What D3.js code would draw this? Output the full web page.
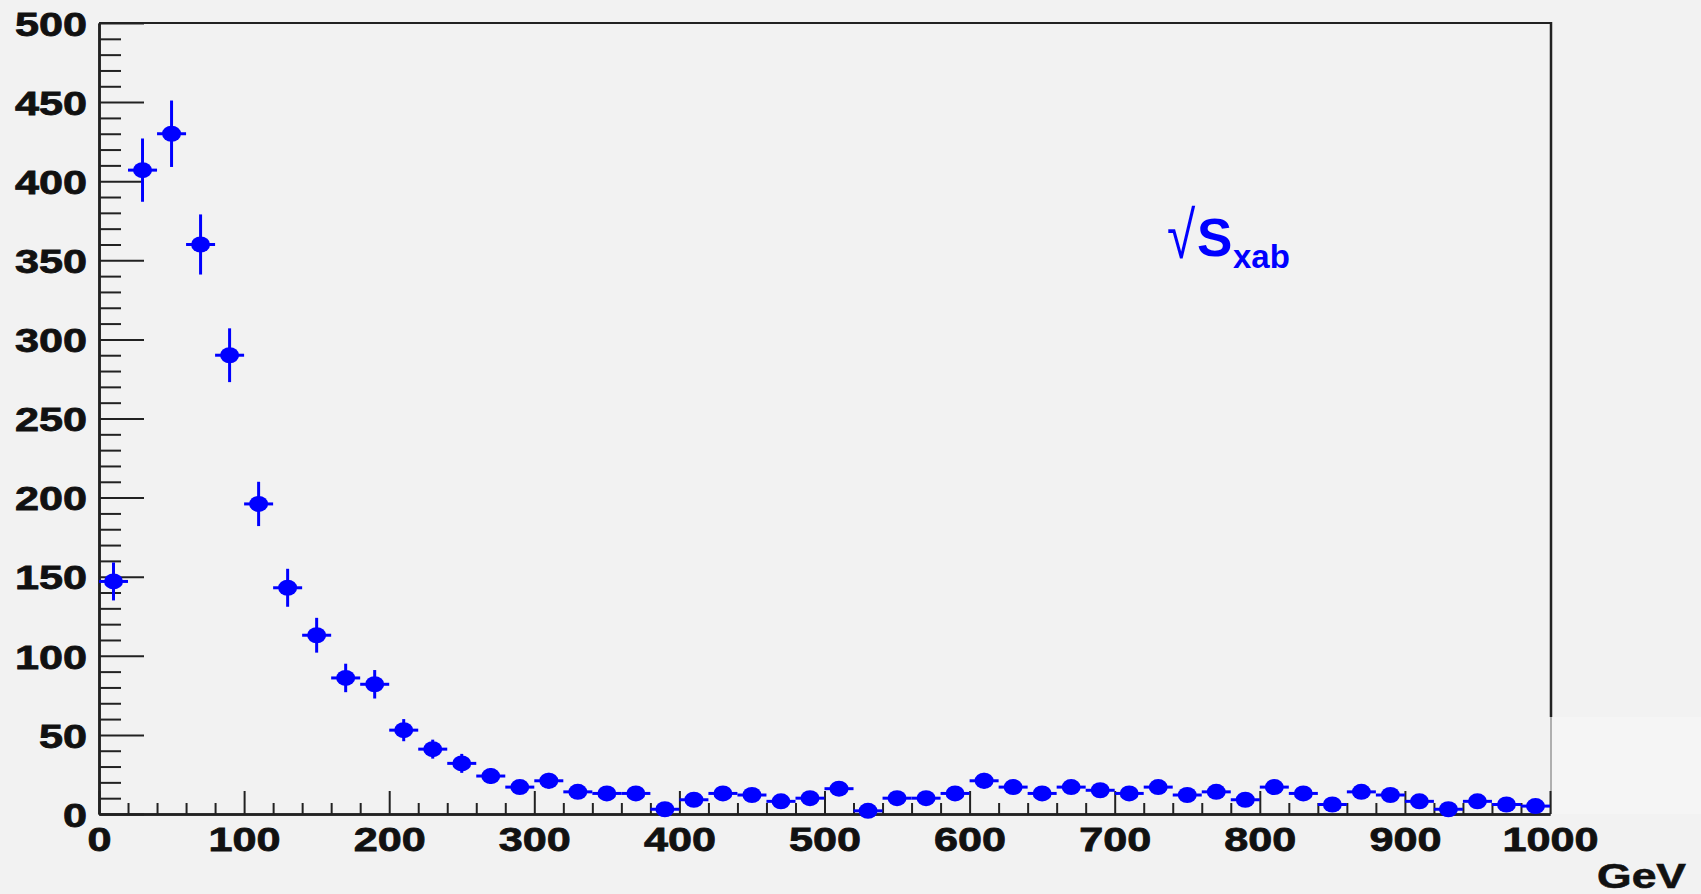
<!DOCTYPE html>
<html>
<head>
<meta charset="utf-8">
<script src="https://cdn.jsdelivr.net/npm/d3@7"></script>
<style>
  html, body { margin: 0; padding: 0; background: #f2f2f2; }
  svg { display: block; }
</style>
</head>
<body>
<div id="chart"></div>
<script>
// bin centres (GeV), 20 GeV wide bins
var binCenters = [10,30,50,70,90,110,130,150,170,190,210,230,250,270,290,310,330,350,370,390,
                  410,430,450,470,490,510,530,550,570,590,610,630,650,670,690,710,730,750,770,790,
                  810,830,850,870,890,910,930,950,970,990];
var counts = [147,407,430,360,290,196,143,113,86,82,53,41,32,24,17,21,14,13,13,3,
              9,13,12,8,10,16,2,10,10,13,21,17,13,17,15,13,17,12,14,9,
              17,13,6,14,12,8,3,8,6,5];
var errors = [12,20,21,19,17,14,12,11,9,9,7,6,6,5,4,5,4,4,4,2,
              3,4,3,3,3,4,1,3,3,4,5,4,4,4,4,4,4,3,4,3,
              4,4,2,4,3,3,2,3,2,2];
var binWidth = 20;
var xMajorTicks = [0,100,200,300,400,500,600,700,800,900,1000];
var yMajorTicks = [0,50,100,150,200,250,300,350,400,450,500];
var xMinorTicks = d3.range(0, 1001, 20).filter(function(v) { return v % 100 != 0; });
var yMinorTicks = d3.range(0, 501, 10).filter(function(v) { return v % 50 != 0; });
var xTitle = "GeV";

var width = 1701, height = 894;
var plotLeft = 99, plotRight = 1551, plotTop = 23, plotBottom = 814;
var blue = "#0000ff";
var stretch = 1.27; // the original picture is stretched sideways

var svg = d3.select("#chart").append("svg").attr("width", width).attr("height", height);
svg.append("rect").attr("width", width).attr("height", height).attr("fill", "#f2f2f2");

var xScale = d3.scaleLinear().domain([0, 1000]).range([plotLeft, plotRight - 1]);
var yScale = d3.scaleLinear().domain([0, 500]).range([plotBottom, plotTop]);

// lighter patch right of the frame
svg.append("rect").attr("x", plotRight + 1).attr("y", 717).attr("width", width - plotRight).attr("height", plotBottom - 717)
    .attr("fill", "#f5f5f5");

// frame top + right
svg.append("line").attr("x1", plotLeft).attr("x2", plotRight).attr("y1", plotTop).attr("y2", plotTop)
    .attr("stroke", "#222").attr("stroke-width", 2);
svg.append("line").attr("x1", plotRight).attr("x2", plotRight).attr("y1", plotTop - 1).attr("y2", 717)
    .attr("stroke", "#222").attr("stroke-width", 2.5);
svg.append("line").attr("x1", plotRight).attr("x2", plotRight).attr("y1", 717).attr("y2", plotBottom)
    .attr("stroke", "#999").attr("stroke-width", 1.5);

// y axis
var yMinor = svg.append("g").attr("transform", "translate(" + plotLeft + ",0)")
    .call(d3.axisLeft(yScale).tickValues(yMinorTicks).tickSize(-22).tickSizeOuter(0).tickFormat(""));
var yAxis = svg.append("g").attr("transform", "translate(" + plotLeft + ",0)")
    .call(d3.axisLeft(yScale).tickValues(yMajorTicks).tickSize(-45).tickSizeOuter(0).tickPadding(9.5)
        .tickFormat(d3.format("d")));

// x axis
var xMinor = svg.append("g").attr("transform", "translate(0," + plotBottom + ")")
    .call(d3.axisBottom(xScale).tickValues(xMinorTicks).tickSize(-11).tickSizeOuter(0).tickFormat(""));
var xAxis = svg.append("g").attr("transform", "translate(0," + plotBottom + ")")
    .call(d3.axisBottom(xScale).tickValues(xMajorTicks).tickSize(-23).tickSizeOuter(0).tickPadding(13)
        .tickFormat(d3.format("d")));

[yMinor, yAxis, xMinor, xAxis].forEach(function(g) {
    g.selectAll("path").attr("stroke", "#222").attr("stroke-width", 2.5);
    g.selectAll("line").attr("stroke", "#222").attr("stroke-width", 2);
});
[yAxis, xAxis].forEach(function(g) {
    g.selectAll("text")
        .attr("fill", "#111")
        .attr("stroke", "#111").attr("stroke-width", 0.8)
        .style("font-family", "'Liberation Sans', Arial, sans-serif")
        .style("font-weight", "bold")
        .style("font-size", "34px")
        .attr("transform", "scale(" + stretch + ",1)");
});
yAxis.selectAll("text").attr("dy", "0.36em");

// axis title
svg.append("text")
    .attr("transform", "translate(1686,888) scale(" + stretch + ",1)")
    .attr("text-anchor", "end")
    .style("font-family", "'Liberation Sans', Arial, sans-serif")
    .style("font-weight", "bold")
    .style("font-size", "35px")
    .attr("fill", "#111")
    .attr("stroke", "#111").attr("stroke-width", 0.6)
    .text(xTitle);

// data points
var pts = binCenters.map(function(c, i) { return {x: c, y: counts[i], e: errors[i]}; });
var g = svg.append("g");
g.selectAll("line.ex").data(pts).enter().append("line")
    .attr("class", "ex")
    .attr("x1", function(d) { return xScale(d.x - binWidth / 2); })
    .attr("x2", function(d) { return xScale(d.x + binWidth / 2); })
    .attr("y1", function(d) { return yScale(d.y); })
    .attr("y2", function(d) { return yScale(d.y); })
    .attr("stroke", blue).attr("stroke-width", 3);
g.selectAll("line.ey").data(pts).enter().append("line")
    .attr("class", "ey")
    .attr("x1", function(d) { return xScale(d.x); })
    .attr("x2", function(d) { return xScale(d.x); })
    .attr("y1", function(d) { return yScale(Math.max(0, d.y - d.e)); })
    .attr("y2", function(d) { return yScale(d.y + d.e); })
    .attr("stroke", blue).attr("stroke-width", 3);
g.selectAll("ellipse").data(pts).enter().append("ellipse")
    .attr("cx", function(d) { return xScale(d.x); })
    .attr("cy", function(d) { return yScale(d.y); })
    .attr("rx", 9.5).attr("ry", 8)
    .attr("fill", blue);

// label
svg.append("text")
    .attr("transform", "translate(1167,258) scale(0.78,1)")
    .attr("fill", blue)
    .style("font-family", "'Liberation Sans', Arial, sans-serif")
    .style("font-size", "66px")
    .text("\u221A");
var lab = svg.append("text")
    .attr("x", 1197).attr("y", 256)
    .attr("fill", blue)
    .style("font-family", "'Liberation Sans', Arial, sans-serif")
    .style("font-weight", "bold");
lab.append("tspan").style("font-size", "53px").text("S");
lab.append("tspan").attr("x", 1233).attr("y", 268).style("font-size", "33px").text("xab");
</script>
</body>
</html>
